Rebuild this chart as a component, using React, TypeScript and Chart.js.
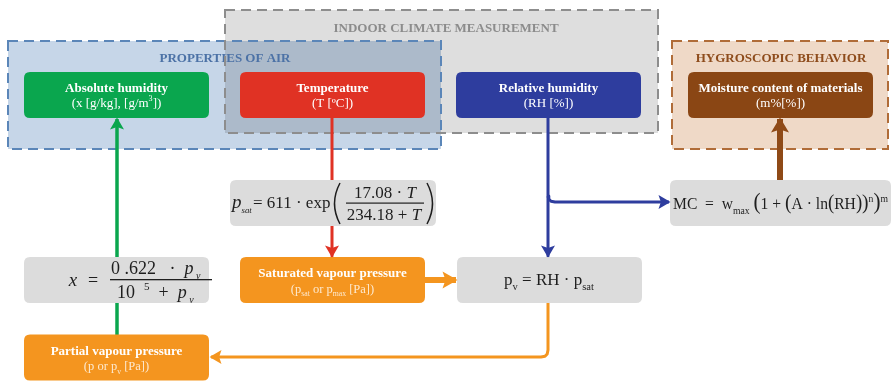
import React, { useEffect, useRef } from "react";
import { Chart, registerables } from "chart.js";

Chart.register(...registerables);

type Seg = { t: string; sub?: boolean; sup?: boolean; it?: boolean; b?: boolean; scale?: number };

const FONT = '"Liberation Serif", "Times New Roman", serif';
const W = 891;
const H = 381;

// ---- group frames (diagram units) ----
const groupTitles = ["INDOOR CLIMATE MEASUREMENT", "PROPERTIES OF AIR", "HYGROSCOPIC BEHAVIOR"];
const groupX0 = [225, 8, 672];
const groupX1 = [658, 441, 888];
const groupY0 = [10, 41, 41];
const groupY1 = [133, 149, 149];
const groupTitleY = [27, 57, 57];
const groupTitleX = [446, 225, 781];

// ---- variable nodes ----
const nodeTitles = [
  "Absolute humidity",
  "Temperature",
  "Relative humidity",
  "Moisture content of materials",
  "Saturated vapour pressure",
  "Partial vapour pressure",
];
const nodeUnits: Seg[][] = [
  [{ t: "(x [g/kg], [g/m" }, { t: "3", sup: true }, { t: "])" }],
  [{ t: "(T [ºC])" }],
  [{ t: "(RH [%])" }],
  [{ t: "(m%[%])" }],
  [{ t: "(p" }, { t: "sat", sub: true }, { t: " or p" }, { t: "max", sub: true }, { t: " [Pa])" }],
  [{ t: "(p or p" }, { t: "v", sub: true }, { t: " [Pa])" }],
];
const nodeCX = [116.5, 332.5, 548.5, 780.5, 332.5, 116.5];
const nodeCY = [95, 95, 95, 95, 280, 357.5];

// ---- formula boxes ----
const formulaCX = [116.5, 333, 549.5, 780.5];
const formulaCY = [280, 203, 280, 203];
const formulaW = [185, 206, 185, 221];

// ---- connectors ----
const linkGreen = [[117, 335], [117, 119]];
const linkRed1 = [[332, 118], [332, 180]];
const linkRed2 = [[332, 226], [332, 256]];
const linkBlue = [[548, 118], [548, 256]];
const linkBlueBranch = [[548, 196], [548.8, 199], [551, 201.2], [555, 202], [669, 202]];
const linkBrown = [[780, 180], [780, 119]];
const linkOrange1 = [[425, 280], [456, 280]];
const linkOrange2 = [[548, 303], [548, 350], [547.2, 354], [545, 356.3], [541, 357], [211, 357]];

const C = {
  green: "#0aa64e",
  red: "#e03224",
  blue: "#2e3d9e",
  brown: "#8a4614",
  orange: "#f4951f",
  gray: "#dcdcdc",
};
const nodeColors = [C.green, C.red, C.blue, C.brown, C.orange, C.orange];

function segFont(s: Seg, size: number, bold: boolean) {
  const sz = s.sub || s.sup ? size * 0.62 * (s.scale || 1) : size * (s.scale || 1);
  return `${s.it ? "italic " : ""}${(s.b ?? bold) ? "bold " : ""}${sz}px ${FONT}`;
}
function measureRich(ctx: CanvasRenderingContext2D, segs: Seg[], size: number, bold: boolean) {
  let w = 0;
  for (const s of segs) {
    ctx.font = segFont(s, size, bold);
    w += ctx.measureText(s.t).width;
  }
  return w;
}
function drawRich(
  ctx: CanvasRenderingContext2D,
  segs: Seg[],
  x: number,
  y: number,
  size: number,
  color: string,
  align: "center" | "left",
  bold: boolean,
  fitW?: number
) {
  ctx.save();
  ctx.fillStyle = color;
  ctx.textBaseline = "alphabetic";
  ctx.textAlign = "left";
  const w = measureRich(ctx, segs, size, bold);
  const sx = fitW ? fitW / w : 1;
  const start = align === "center" ? x - (w * sx) / 2 : x;
  ctx.translate(start, y);
  ctx.scale(sx, 1);
  let cx = 0;
  for (const s of segs) {
    ctx.font = segFont(s, size, bold);
    const dy = s.sub ? size * 0.28 : s.sup ? -size * 0.42 : 0;
    ctx.fillText(s.t, cx, dy);
    cx += ctx.measureText(s.t).width;
  }
  ctx.restore();
}
function rrect(ctx: CanvasRenderingContext2D, x: number, y: number, w: number, h: number, r: number) {
  ctx.beginPath();
  ctx.moveTo(x + r, y);
  ctx.lineTo(x + w - r, y);
  ctx.quadraticCurveTo(x + w, y, x + w, y + r);
  ctx.lineTo(x + w, y + h - r);
  ctx.quadraticCurveTo(x + w, y + h, x + w - r, y + h);
  ctx.lineTo(x + r, y + h);
  ctx.quadraticCurveTo(x, y + h, x, y + h - r);
  ctx.lineTo(x, y + r);
  ctx.quadraticCurveTo(x, y, x + r, y);
  ctx.closePath();
}

const diagramPlugin = {
  id: "diagram",
  beforeDatasetsDraw(chart: any) {
    const ctx: CanvasRenderingContext2D = chart.ctx;
    const X = (v: number) => chart.scales.x.getPixelForValue(v);
    const Y = (v: number) => chart.scales.y.getPixelForValue(v);
    ctx.save();
    const fills = ["#dedede", "#c6d6e8", "#efd9c7"];
    const order = [1, 0, 2];
    for (const i of order) {
      ctx.globalCompositeOperation = i === 0 ? "multiply" : "source-over";
      ctx.fillStyle = fills[i];
      ctx.fillRect(X(groupX0[i]), Y(groupY0[i]), X(groupX1[i]) - X(groupX0[i]), Y(groupY1[i]) - Y(groupY0[i]));
    }
    ctx.globalCompositeOperation = "source-over";
    const titleColors = ["#8c8c8c", "#4c72a6", "#8e4c1c"];
    for (let i = 0; i < 3; i++) {
      drawRich(ctx, [{ t: groupTitles[i] }], X(groupTitleX[i]), Y(groupTitleY[i]) + 4.5, 13, titleColors[i], "center", true);
    }
    const borders = ["#8d8d8d", "#5b86b8", "#b06c38"];
    ctx.lineWidth = 2;
    ctx.setLineDash([10, 6]);
    for (const i of order) {
      ctx.strokeStyle = borders[i];
      ctx.strokeRect(X(groupX0[i]), Y(groupY0[i]), X(groupX1[i]) - X(groupX0[i]), Y(groupY1[i]) - Y(groupY0[i]));
    }
    ctx.setLineDash([]);
    ctx.restore();
  },
  afterDatasetsDraw(chart: any) {
    const ctx: CanvasRenderingContext2D = chart.ctx;
    const X = (v: number) => chart.scales.x.getPixelForValue(v);
    const Y = (v: number) => chart.scales.y.getPixelForValue(v);
    ctx.save();
    // variable nodes
    for (let i = 0; i < nodeTitles.length; i++) {
      const x0 = X(nodeCX[i] - 92.5);
      const y0 = Y(nodeCY[i] - 23);
      rrect(ctx, x0, y0, X(nodeCX[i] + 92.5) - x0, Y(nodeCY[i] + 23) - y0, 6);
      ctx.fillStyle = nodeColors[i];
      ctx.fill();
      const orange = i >= 4;
      drawRich(ctx, [{ t: nodeTitles[i] }], X(nodeCX[i]), Y(nodeCY[i] - (orange ? 3 : 3.5)), 13, "#ffffff", "center", true);
      drawRich(ctx, nodeUnits[i], X(nodeCX[i]), Y(nodeCY[i] + (orange ? 12.5 : 11.5)), orange ? 12.5 : 13, orange ? "#fde9cf" : "#ffffff", "center", false);
    }
    // formula boxes
    for (let i = 0; i < formulaCX.length; i++) {
      const x0 = X(formulaCX[i] - formulaW[i] / 2);
      const y0 = Y(formulaCY[i] - 23);
      rrect(ctx, x0, y0, X(formulaCX[i] + formulaW[i] / 2) - x0, Y(formulaCY[i] + 23) - y0, 6);
      ctx.fillStyle = C.gray;
      ctx.fill();
    }
    const ink = "#1e1e1e";
    // x = 0.622 p_v / (10^5 + p_v)
    drawRich(ctx, [{ t: "x", it: true }], X(73), Y(286), 19, ink, "center", false);
    drawRich(ctx, [{ t: "=" }], X(93), Y(286), 18, ink, "center", false);
    drawRich(ctx, [{ t: "0 .622   ·  " }, { t: "p", it: true }, { t: " v", sub: true, it: true, scale: 0.9 }], X(111), Y(274), 18, ink, "left", false);
    ctx.fillStyle = ink;
    ctx.fillRect(X(110), Y(279), X(212) - X(110), 1.3);
    drawRich(ctx, [{ t: "10  " }, { t: "5", sup: true }, { t: "  +  " }, { t: "p", it: true }, { t: " v", sub: true, it: true, scale: 0.9 }], X(117), Y(298), 18, ink, "left", false);

    // p_sat = 611 exp(17.08 T / (234.18 + T))
    drawRich(ctx, [{ t: "p", it: true }, { t: "sat", sub: true, it: true, scale: 0.75 }], X(232), Y(208), 19, ink, "left", false);
    drawRich(ctx, [{ t: "= 611 · exp" }], X(253), Y(208), 17, ink, "left", false);
    ctx.strokeStyle = ink;
    ctx.lineWidth = 1.5;
    ctx.beginPath();
    ctx.moveTo(X(340), Y(183));
    ctx.quadraticCurveTo(X(329), Y(203.5), X(340), Y(224));
    ctx.moveTo(X(427), Y(183));
    ctx.quadraticCurveTo(X(438), Y(203.5), X(427), Y(224));
    ctx.stroke();
    drawRich(ctx, [{ t: "17.08 · " }, { t: "T", it: true }], X(385), Y(198), 17, ink, "center", false);
    ctx.fillRect(X(346), Y(202.5), X(424) - X(346), 1.2);
    drawRich(ctx, [{ t: "234.18 + " }, { t: "T", it: true }], X(384), Y(220), 17, ink, "center", false);

    // p_v = RH p_sat
    drawRich(ctx, [{ t: "p" }, { t: "v", sub: true }, { t: " = RH · p" }, { t: "sat", sub: true }], X(549), Y(285), 17, ink, "center", false);

    // MC formula
    drawRich(
      ctx,
      [
        { t: "MC  =  w" },
        { t: "max", sub: true },
        { t: " " },
        { t: "(", scale: 1.35 },
        { t: "1 + " },
        { t: "(", scale: 1.25 },
        { t: "A · ln" },
        { t: "(", scale: 1.2 },
        { t: "RH" },
        { t: ")", scale: 1.2 },
        { t: ")", scale: 1.25 },
        { t: "n", sup: true },
        { t: ")", scale: 1.35 },
        { t: "m", sup: true },
      ],
      X(673),
      Y(209),
      17,
      ink,
      "left",
      false,
      X(888) - X(673)
    );

    // arrow heads
    for (const ds of chart.data.datasets) {
      const head = ds.head;
      if (!head) continue;
      const pts = ds.data;
      const a = pts[pts.length - 2];
      const b = pts[pts.length - 1];
      const ax = X(a.x), ay = Y(a.y), bx = X(b.x), by = Y(b.y);
      const ang = Math.atan2(by - ay, bx - ax);
      const [len, half] = head;
      const tx = bx + Math.cos(ang) * 1.5;
      const ty = by + Math.sin(ang) * 1.5;
      ctx.fillStyle = ds.borderColor;
      ctx.beginPath();
      ctx.moveTo(tx, ty);
      ctx.lineTo(tx - Math.cos(ang) * len - Math.sin(ang) * half, ty - Math.sin(ang) * len + Math.cos(ang) * half);
      ctx.lineTo(tx - Math.cos(ang) * len * 0.8, ty - Math.sin(ang) * len * 0.8);
      ctx.lineTo(tx - Math.cos(ang) * len + Math.sin(ang) * half, ty - Math.sin(ang) * len - Math.cos(ang) * half);
      ctx.closePath();
      ctx.fill();
    }
    ctx.restore();
  },
};

function toPts(arr: number[][]) {
  return arr.map(([x, y]) => ({ x, y }));
}

export default function App() {
  const ref = useRef<HTMLCanvasElement | null>(null);
  useEffect(() => {
    document.body.style.margin = "0";
    const canvas = ref.current;
    if (!canvas) return;
    const mk = (pts: number[][], color: string, width: number, head?: number[]) =>
      ({
        data: toPts(pts),
        borderColor: color,
        backgroundColor: color,
        borderWidth: width,
        showLine: true,
        pointRadius: 0,
        fill: false,
        tension: 0,
        borderJoinStyle: "round",
        borderCapStyle: "butt",
        clip: false,
        head,
      } as any);
    const chart = new Chart(canvas, {
      type: "scatter",
      data: {
        datasets: [
          mk(linkGreen, C.green, 3.5, [12, 7]),
          mk(linkRed1, C.red, 3),
          mk(linkRed2, C.red, 3, [12, 7]),
          mk(linkBlue, C.blue, 3, [12, 7]),
          mk(linkBlueBranch, C.blue, 3, [12, 7]),
          mk(linkBrown, "#8f4a17", 6, [15, 9]),
          mk(linkOrange1, C.orange, 6, [15, 8.5]),
          mk(linkOrange2, C.orange, 3, [12, 7]),
        ],
      },
      options: {
        responsive: false,
        maintainAspectRatio: false,
        animation: false,
        events: [],
        layout: { padding: 0 },
        plugins: { legend: { display: false }, tooltip: { enabled: false } },
        scales: {
          x: { type: "linear", min: 0, max: W, display: false },
          y: { type: "linear", min: 0, max: H, reverse: true, display: false },
        },
      },
      plugins: [diagramPlugin],
    });
    return () => chart.destroy();
  }, []);
  return (
    <div style={{ width: W, height: H, background: "#ffffff" }}>
      <canvas ref={ref} width={W} height={H} style={{ display: "block", width: W, height: H }} />
    </div>
  );
}
